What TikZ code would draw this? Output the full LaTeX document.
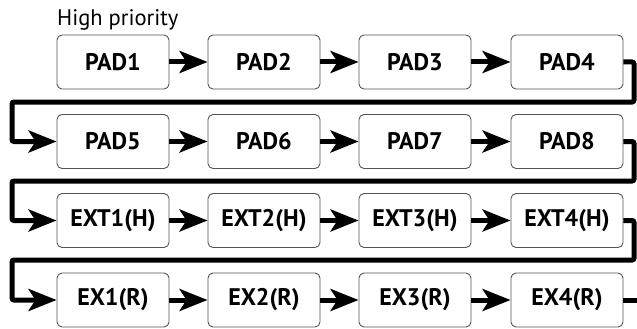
\documentclass[tikz,border=0pt]{standalone}
\usepackage{fontspec}
\setmainfont{PT Sans}
\usetikzlibrary{arrows.meta}
\definecolor{boxgray}{HTML}{555555}
\tikzset{
  chip/.style={draw=boxgray, line width=0.9pt, rounded corners=5pt, minimum width=112pt, minimum height=54pt, inner sep=0pt, font=\fontsize{24}{26}\selectfont\bfseries, text=black},
  flow/.style={line width=5pt, -{Stealth[length=28pt,width=22pt,inset=7pt]}},
  wrap/.style={line width=5pt, rounded corners=2pt, -{Stealth[length=28pt,width=22pt,inset=7pt]}},
  tail/.style={line width=5pt}
}
\begin{document}
\begin{tikzpicture}[x=1pt,y=-1pt]
\useasboundingbox (0,0) rectangle (637,329);
\node[anchor=base west, font=\fontsize{22.5}{24}\selectfont, inner sep=0pt] (hp) at (57,26) {High priority};
% row 1
\node[chip] (p1) at (113,62) {PAD1};
\node[chip] (p2) at (264,62) {PAD2};
\node[chip] (p3) at (415,62) {PAD3};
\node[chip] (p4) at (567,62) {PAD4};
% row 2
\node[chip] (p5) at (113,141.5) {PAD5};
\node[chip] (p6) at (264,141.5) {PAD6};
\node[chip] (p7) at (415,141.5) {PAD7};
\node[chip] (p8) at (567,141.5) {PAD8};
% row 3
\node[chip] (e1) at (113,220.5) {EXT1(H)};
\node[chip] (e2) at (264,220.5) {EXT2(H)};
\node[chip] (e3) at (415,220.5) {EXT3(H)};
\node[chip] (e4) at (567,220.5) {EXT4(H)};
% row 4
\node[chip] (r1) at (113,300) {EX1(R)};
\node[chip] (r2) at (264,300) {EX2(R)};
\node[chip] (r3) at (415,300) {EX3(R)};
\node[chip] (r4) at (567,300) {EX4(R)};
% horizontal arrows
\foreach \a/\b in {p1/p2,p2/p3,p3/p4,p5/p6,p6/p7,p7/p8,e1/e2,e2/e3,e3/e4,r1/r2,r2/r3,r3/r4}
  \draw[flow] (\a.east) -- (\b.west);
% wrap-around connectors
\draw[wrap] (p4.east) -- (634,62) -- (634,102) -- (12,102) -- (12,141.5) -- (p5.west);
\draw[wrap] (p8.east) -- (634,141.5) -- (634,181) -- (12,181) -- (12,220.5) -- (e1.west);
\draw[wrap] (e4.east) -- (634,220.5) -- (634,260) -- (12,260) -- (12,300) -- (r1.west);
\coordinate (end) at (637,300);
\draw[tail] (r4.east) -- (end);
\end{tikzpicture}
\end{document}
